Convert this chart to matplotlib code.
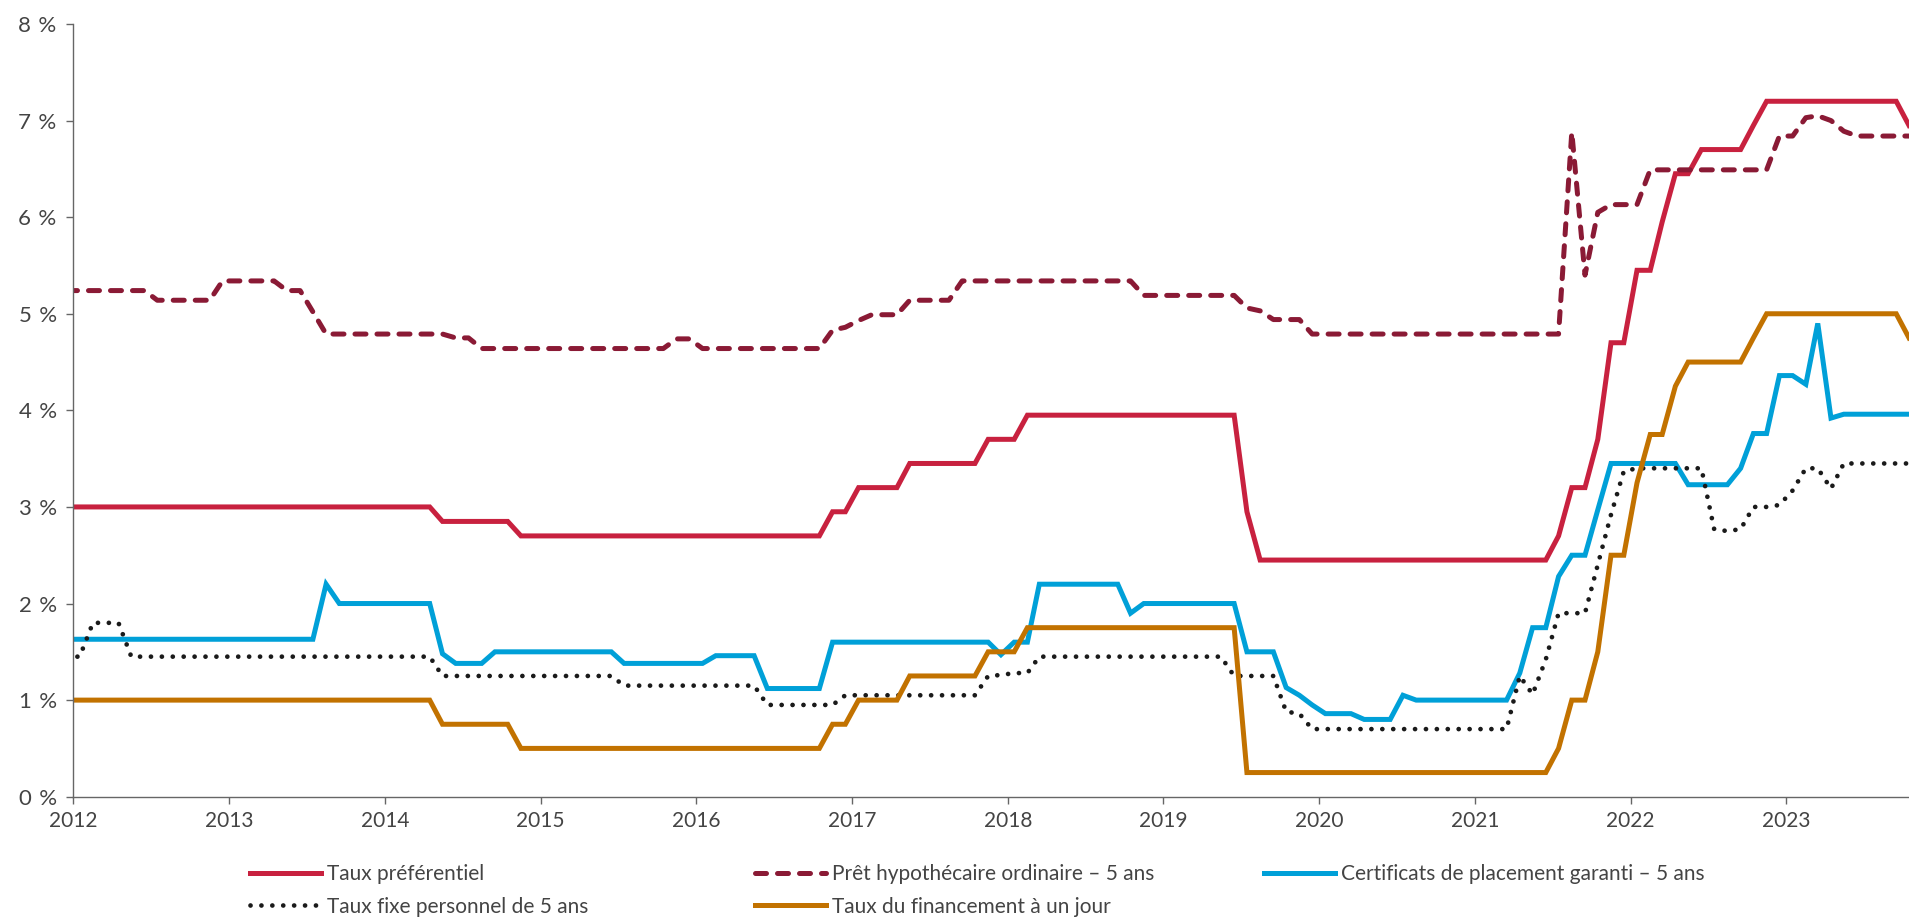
import numpy as np
import pandas as pd
import matplotlib
matplotlib.use("Agg")
import matplotlib.pyplot as plt
import matplotlib.dates as mdates
from matplotlib.ticker import FuncFormatter
from matplotlib.lines import Line2D

plt.rcParams['font.family'] = ['Lato', 'DejaVu Sans']

# monthly values, Dec 2011 then one row per year (2023: Jan-Oct)
taux_pref = [3.0,
    3.0, 3.0, 3.0, 3.0, 3.0, 3.0, 3.0, 3.0, 3.0, 3.0, 3.0, 3.0,
    3.0, 3.0, 3.0, 3.0, 3.0, 3.0, 3.0, 3.0, 3.0, 3.0, 3.0, 3.0,
    3.0, 3.0, 3.0, 3.0, 2.85, 2.85, 2.85, 2.85, 2.85, 2.85, 2.70, 2.70,
    2.70, 2.70, 2.70, 2.70, 2.70, 2.70, 2.70, 2.70, 2.70, 2.70, 2.70, 2.70,
    2.70, 2.70, 2.70, 2.70, 2.70, 2.70, 2.70, 2.70, 2.70, 2.70, 2.95, 2.95,
    3.20, 3.20, 3.20, 3.20, 3.45, 3.45, 3.45, 3.45, 3.45, 3.45, 3.70, 3.70,
    3.70, 3.95, 3.95, 3.95, 3.95, 3.95, 3.95, 3.95, 3.95, 3.95, 3.95, 3.95,
    3.95, 3.95, 3.95, 3.95, 3.95, 3.95, 2.95, 2.45, 2.45, 2.45, 2.45, 2.45,
    2.45, 2.45, 2.45, 2.45, 2.45, 2.45, 2.45, 2.45, 2.45, 2.45, 2.45, 2.45,
    2.45, 2.45, 2.45, 2.45, 2.45, 2.45, 2.70, 3.20, 3.20, 3.70, 4.70, 4.70,
    5.45, 5.45, 5.95, 6.45, 6.45, 6.70, 6.70, 6.70, 6.70, 6.95, 7.20, 7.20,
    7.20, 7.20, 7.20, 7.20, 7.20, 7.20, 7.20, 7.20, 7.20, 6.95]

pret_hypo = [5.24,
    5.24, 5.24, 5.24, 5.24, 5.24, 5.24, 5.14, 5.14, 5.14, 5.14, 5.14, 5.34,
    5.34, 5.34, 5.34, 5.34, 5.24, 5.24, 5.02, 4.79, 4.79, 4.79, 4.79, 4.79,
    4.79, 4.79, 4.79, 4.79, 4.79, 4.75, 4.75, 4.64, 4.64, 4.64, 4.64, 4.64,
    4.64, 4.64, 4.64, 4.64, 4.64, 4.64, 4.64, 4.64, 4.64, 4.64, 4.74, 4.74,
    4.64, 4.64, 4.64, 4.64, 4.64, 4.64, 4.64, 4.64, 4.64, 4.64, 4.83, 4.86,
    4.93, 4.99, 4.99, 4.99, 5.14, 5.14, 5.14, 5.14, 5.34, 5.34, 5.34, 5.34,
    5.34, 5.34, 5.34, 5.34, 5.34, 5.34, 5.34, 5.34, 5.34, 5.34, 5.19, 5.19,
    5.19, 5.19, 5.19, 5.19, 5.19, 5.19, 5.06, 5.03, 4.94, 4.94, 4.94, 4.79,
    4.79, 4.79, 4.79, 4.79, 4.79, 4.79, 4.79, 4.79, 4.79, 4.79, 4.79, 4.79,
    4.79, 4.79, 4.79, 4.79, 4.79, 4.79, 4.79, 6.88, 5.40, 6.05, 6.13, 6.13,
    6.13, 6.49, 6.49, 6.49, 6.49, 6.49, 6.49, 6.49, 6.49, 6.49, 6.49, 6.84,
    6.84, 7.03, 7.05, 7.00, 6.89, 6.84, 6.84, 6.84, 6.84, 6.84]

cpg_5ans = [1.63,
    1.63, 1.63, 1.63, 1.63, 1.63, 1.63, 1.63, 1.63, 1.63, 1.63, 1.63, 1.63,
    1.63, 1.63, 1.63, 1.63, 1.63, 1.63, 1.63, 2.20, 2.00, 2.00, 2.00, 2.00,
    2.00, 2.00, 2.00, 2.00, 1.48, 1.38, 1.38, 1.38, 1.50, 1.50, 1.50, 1.50,
    1.50, 1.50, 1.50, 1.50, 1.50, 1.50, 1.38, 1.38, 1.38, 1.38, 1.38, 1.38,
    1.38, 1.46, 1.46, 1.46, 1.46, 1.12, 1.12, 1.12, 1.12, 1.12, 1.60, 1.60,
    1.60, 1.60, 1.60, 1.60, 1.60, 1.60, 1.60, 1.60, 1.60, 1.60, 1.60, 1.47,
    1.60, 1.60, 2.20, 2.20, 2.20, 2.20, 2.20, 2.20, 2.20, 1.90, 2.00, 2.00,
    2.00, 2.00, 2.00, 2.00, 2.00, 2.00, 1.50, 1.50, 1.50, 1.13, 1.05, 0.95,
    0.86, 0.86, 0.86, 0.80, 0.80, 0.80, 1.05, 1.00, 1.00, 1.00, 1.00, 1.00,
    1.00, 1.00, 1.00, 1.28, 1.75, 1.75, 2.28, 2.50, 2.50, 2.97, 3.45, 3.45,
    3.45, 3.45, 3.45, 3.45, 3.23, 3.23, 3.23, 3.23, 3.40, 3.76, 3.76, 4.36,
    4.36, 4.27, 4.90, 3.92, 3.96, 3.96, 3.96, 3.96, 3.96, 3.96]

taux_fixe = [1.45,
    1.45, 1.80, 1.80, 1.80, 1.45, 1.45, 1.45, 1.45, 1.45, 1.45, 1.45, 1.45,
    1.45, 1.45, 1.45, 1.45, 1.45, 1.45, 1.45, 1.45, 1.45, 1.45, 1.45, 1.45,
    1.45, 1.45, 1.45, 1.45, 1.25, 1.25, 1.25, 1.25, 1.25, 1.25, 1.25, 1.25,
    1.25, 1.25, 1.25, 1.25, 1.25, 1.25, 1.15, 1.15, 1.15, 1.15, 1.15, 1.15,
    1.15, 1.15, 1.15, 1.15, 1.15, 0.95, 0.95, 0.95, 0.95, 0.95, 0.95, 1.05,
    1.05, 1.05, 1.05, 1.05, 1.05, 1.05, 1.05, 1.05, 1.05, 1.05, 1.25, 1.26,
    1.28, 1.28, 1.45, 1.45, 1.45, 1.45, 1.45, 1.45, 1.45, 1.45, 1.45, 1.45,
    1.45, 1.45, 1.45, 1.45, 1.45, 1.25, 1.25, 1.25, 1.25, 0.88, 0.86, 0.70,
    0.70, 0.70, 0.70, 0.70, 0.70, 0.70, 0.70, 0.70, 0.70, 0.70, 0.70, 0.70,
    0.70, 0.70, 0.70, 1.25, 1.06, 1.42, 1.90, 1.90, 1.90, 2.40, 2.92, 3.37,
    3.40, 3.40, 3.40, 3.40, 3.40, 3.40, 2.77, 2.75, 2.77, 3.00, 3.00, 3.02,
    3.17, 3.40, 3.40, 3.19, 3.45, 3.45, 3.45, 3.45, 3.45, 3.45]

taux_jour = [1.0,
    1.0, 1.0, 1.0, 1.0, 1.0, 1.0, 1.0, 1.0, 1.0, 1.0, 1.0, 1.0,
    1.0, 1.0, 1.0, 1.0, 1.0, 1.0, 1.0, 1.0, 1.0, 1.0, 1.0, 1.0,
    1.0, 1.0, 1.0, 1.0, 0.75, 0.75, 0.75, 0.75, 0.75, 0.75, 0.50, 0.50,
    0.50, 0.50, 0.50, 0.50, 0.50, 0.50, 0.50, 0.50, 0.50, 0.50, 0.50, 0.50,
    0.50, 0.50, 0.50, 0.50, 0.50, 0.50, 0.50, 0.50, 0.50, 0.50, 0.75, 0.75,
    1.00, 1.00, 1.00, 1.00, 1.25, 1.25, 1.25, 1.25, 1.25, 1.25, 1.50, 1.50,
    1.50, 1.75, 1.75, 1.75, 1.75, 1.75, 1.75, 1.75, 1.75, 1.75, 1.75, 1.75,
    1.75, 1.75, 1.75, 1.75, 1.75, 1.75, 0.25, 0.25, 0.25, 0.25, 0.25, 0.25,
    0.25, 0.25, 0.25, 0.25, 0.25, 0.25, 0.25, 0.25, 0.25, 0.25, 0.25, 0.25,
    0.25, 0.25, 0.25, 0.25, 0.25, 0.25, 0.50, 1.00, 1.00, 1.50, 2.50, 2.50,
    3.25, 3.75, 3.75, 4.25, 4.50, 4.50, 4.50, 4.50, 4.50, 4.75, 5.00, 5.00,
    5.00, 5.00, 5.00, 5.00, 5.00, 5.00, 5.00, 5.00, 5.00, 4.75]

noms = ["Taux préférentiel", "Prêt hypothécaire ordinaire – 5 ans",
        "Certificats de placement garanti – 5 ans", "Taux fixe personnel de 5 ans",
        "Taux du financement à un jour"]
annees = list(range(2012, 2024))

# points at mid-month
mois = pd.date_range("2011-12-01", periods=len(taux_pref), freq="MS") + pd.Timedelta(days=15)

rouge = '#C8213F'
bordeaux = '#8A1A35'
bleu = '#00A0D8'
noir = '#1a1a1a'
orange = '#C27200'
gris = '#444444'

fig = plt.figure(figsize=(19.09, 9.22), dpi=100)
ax = fig.add_axes([73.3/1909, 125.3/922, 1 - 73.3/1909, (796.7-24)/922])

lw = 3.6
l1, = ax.plot(mois, taux_pref, color=rouge, lw=lw, solid_joinstyle='miter')
l2, = ax.plot(mois, pret_hypo, color=bordeaux, lw=lw, linestyle=(0, (2.2, 2.2)),
              dash_capstyle='round', dash_joinstyle='round')
l3, = ax.plot(mois, cpg_5ans, color=bleu, lw=lw, solid_joinstyle='miter')
l4, = ax.plot(mois, taux_fixe, color=noir, lw=3.4, linestyle=(0, (0.01, 2.3)),
              dash_capstyle='round')
l5, = ax.plot(mois, taux_jour, color=orange, lw=lw, solid_joinstyle='miter')

ax.set_xlim(pd.Timestamp("2012-01-01"), pd.Timestamp("2023-10-16"))
ax.set_ylim(0, 8)
ax.set_yticks(range(0, 9))
ax.yaxis.set_major_formatter(FuncFormatter(lambda v, p: "%d\u2004%%" % v))
ax.set_xticks([pd.Timestamp("%d-01-01" % a) for a in annees])
ax.set_xticklabels([str(a) for a in annees])

for s in ['top', 'right']:
    ax.spines[s].set_visible(False)
for s in ['left', 'bottom']:
    ax.spines[s].set_color('#666666')
    ax.spines[s].set_linewidth(1.0)
ax.tick_params(axis='both', colors='#666666', labelcolor=gris, labelsize=15,
               length=5, width=1.0, direction='out')
ax.tick_params(axis='y', pad=7, labelsize=16)
ax.tick_params(axis='x', pad=5)

# legend in three columns
kw = dict(frameon=False, fontsize=15, handlelength=3.4, handletextpad=0.3,
          labelspacing=0.6, borderaxespad=0, borderpad=0, labelcolor=gris,
          loc='upper left')
y_leg = 1 - 864/922
lg1 = fig.legend([l1, l4], [noms[0], noms[3]], bbox_to_anchor=(250/1909, y_leg), **kw)
lg2 = fig.legend([l2, l5], [noms[1], noms[4]], bbox_to_anchor=(755/1909, y_leg), **kw)
lg3 = fig.legend([l3], [noms[2]], bbox_to_anchor=(1264/1909, y_leg), **kw)

fig.savefig("out.png", dpi=100)
